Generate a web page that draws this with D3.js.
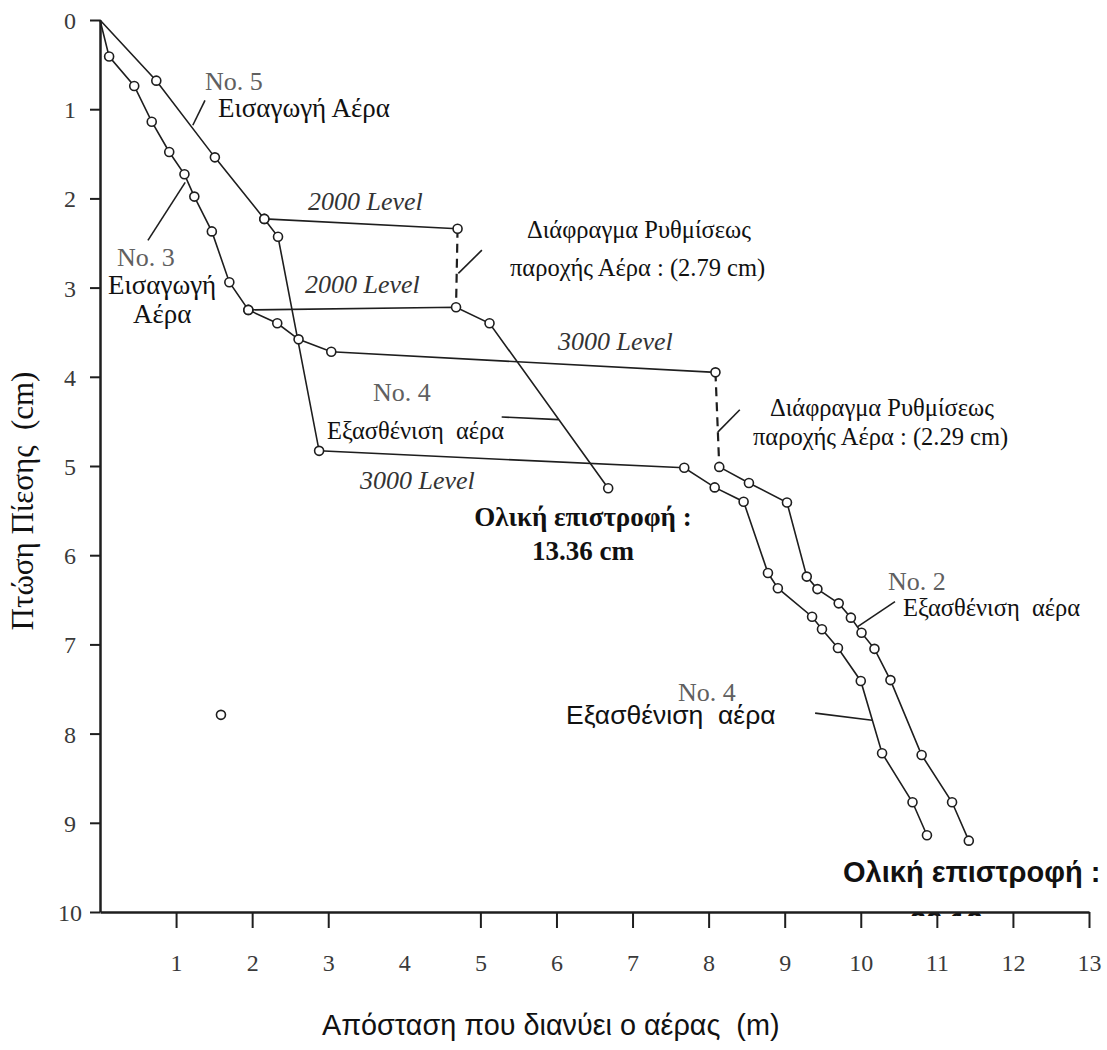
<!DOCTYPE html>
<html>
<head>
<meta charset="utf-8">
<script src="https://cdn.jsdelivr.net/npm/d3@7"></script>
<style>
  body { margin: 0; background: #fff; }
  text { white-space: pre; }
</style>
</head>
<body>
<div id="chart"></div>
<script>
// axis ticks
const xTicks = [1, 2, 3, 4, 5, 6, 7, 8, 9, 10, 11, 12, 13];
const yTicks = [0, 1, 2, 3, 4, 5, 6, 7, 8, 9, 10];

// [distance m, pressure drop cm]
// No.5 intake -> 3000 level (lower) -> No.4 exhaust
const no5Path = [[0, 0], [0.74, 0.68], [1.51, 1.54], [2.16, 2.23], [2.34, 2.43], [2.88, 4.83],
  [7.68, 5.02], [8.08, 5.24], [8.46, 5.40], [8.78, 6.20], [8.91, 6.37], [9.36, 6.69], [9.49, 6.83],
  [9.70, 7.04], [10.0, 7.41], [10.28, 8.22], [10.68, 8.77], [10.87, 9.14]];
// No.3 intake -> 3000 level (upper)
const no3Path = [[0, 0], [0.12, 0.41], [0.45, 0.74], [0.68, 1.14], [0.91, 1.48], [1.11, 1.73],
  [1.24, 1.98], [1.47, 2.37], [1.70, 2.94], [1.95, 3.25], [2.33, 3.40], [2.61, 3.58], [3.04, 3.72],
  [8.09, 3.95]];
// No.2 exhaust, after the regulator
const no2Path = [[8.14, 5.01], [8.53, 5.19], [9.03, 5.41], [9.29, 6.24], [9.43, 6.38], [9.71, 6.54],
  [9.87, 6.70], [10.01, 6.87], [10.18, 7.05], [10.39, 7.40], [10.80, 8.24], [11.20, 8.77], [11.42, 9.20]];
// 2000 level
const level2000Upper = [[2.16, 2.23], [4.70, 2.34]];
const level2000Lower = [[1.95, 3.25], [4.68, 3.22], [5.12, 3.40], [6.68, 5.25]];
// regulators (dashed)
const regulators = [[[4.70, 2.34], [4.68, 3.22]], [[8.09, 3.95], [8.14, 5.01]]];
const strayPoint = [[1.59, 7.79]];

// leader lines
const leaders = [
  [[1.22, 1.18], [1.38, 0.90]],
  [[0.63, 2.47], [1.12, 1.82]],
  [[4.71, 2.84], [5.02, 2.58]],
  [[5.28, 4.45], [6.03, 4.48]],
  [[8.12, 4.62], [8.41, 4.37]],
  [[9.96, 6.80], [10.45, 6.52]],
  [[9.40, 7.77], [10.15, 7.85]]
];

const W = 1107, H = 1050;
const svg = d3.select("#chart").append("svg")
  .attr("width", W)
  .attr("height", H);

const x = d3.scaleLinear().domain([0, 13]).range([100, 1089]);
const y = d3.scaleLinear().domain([0, 10]).range([20, 912]);

const serif = "'Liberation Serif', 'Times New Roman', serif";
const sans = "'Liberation Sans', Arial, sans-serif";
const ink = "#1e1e1e";

let line = d3.line()
  .x(d => x(d[0]))
  .y(d => y(d[1]));

//axes
let yAxis = svg.append("g")
  .attr("transform", "translate(100,0)")
  .call(d3.axisLeft(y).tickValues(yTicks).tickSize(10).tickSizeOuter(0).tickFormat(d3.format("d")));
yAxis.select(".domain").attr("stroke", ink).attr("stroke-width", 2.5);
yAxis.selectAll(".tick line").attr("stroke", ink).attr("stroke-width", 2);
yAxis.selectAll(".tick text")
  .attr("x", -30)
  .attr("dy", "0.35em")
  .attr("text-anchor", "middle")
  .style("font-family", serif)
  .style("font-size", "24px")
  .attr("fill", "#3a3a3a");

let xAxis = svg.append("g")
  .attr("transform", "translate(0,912)")
  .call(d3.axisBottom(x).tickValues(xTicks).tickSize(16).tickSizeOuter(0).tickFormat(d3.format("d")));
xAxis.select(".domain").attr("stroke", ink).attr("stroke-width", 2.5);
xAxis.selectAll(".tick line").attr("stroke", ink).attr("stroke-width", 2)
  .filter(d => d == 4).remove();
xAxis.selectAll(".tick text")
  .attr("y", 51)
  .attr("dy", "0.35em")
  .style("font-family", serif)
  .style("font-size", "24px")
  .attr("fill", "#3a3a3a");

// series lines
[no5Path, no3Path, no2Path, level2000Upper, level2000Lower].forEach(p =>
  svg.append("path")
    .datum(p)
    .attr("d", line)
    .attr("fill", "none")
    .attr("stroke", ink)
    .attr("stroke-width", 1.6)
);

regulators.forEach(r =>
  svg.append("path")
    .datum(r)
    .attr("d", line)
    .attr("fill", "none")
    .attr("stroke", ink)
    .attr("stroke-width", 2.2)
    .attr("stroke-dasharray", "9,6")
);

leaders.forEach(l =>
  svg.append("path")
    .datum(l)
    .attr("d", line)
    .attr("fill", "none")
    .attr("stroke", ink)
    .attr("stroke-width", 1.6)
);

// circles (no marker at the origin)
let pts = [].concat(no5Path, no3Path, no2Path, level2000Upper, level2000Lower, strayPoint)
  .filter(d => !(d[0] == 0 && d[1] == 0));
svg.append("g").selectAll("circle")
  .data(pts)
  .join("circle")
  .attr("cx", d => x(d[0]))
  .attr("cy", d => y(d[1]))
  .attr("r", 4.5)
  .attr("fill", "#fff")
  .attr("stroke", ink)
  .attr("stroke-width", 1.6);

// text labels
function label(t, px, py, font, size, opts) {
  opts = opts || {};
  return svg.append("text")
    .attr("x", px)
    .attr("y", py)
    .attr("text-anchor", opts.anchor || "start")
    .style("font-family", font)
    .style("font-size", size + "px")
    .style("font-style", opts.italic ? "italic" : "normal")
    .style("font-weight", opts.bold ? "bold" : "normal")
    .attr("fill", opts.fill || "#111")
    .text(t);
}

const gray = "#606060";
const lvl = {italic: true, fill: "#333"};
label("No. 5", 205, 90, serif, 26, {fill: gray});
label("Εισαγωγή Αέρα", 218, 117, serif, 27);
label("No. 3", 117, 266, serif, 26, {fill: gray});
label("Εισαγωγή", 108, 294, serif, 27);
label("Αέρα", 133, 323, serif, 27);

label("2000 Level", 308, 210, serif, 26, lvl);
label("2000 Level", 305, 293, serif, 26, lvl);
label("3000 Level", 558, 350, serif, 26, lvl);
label("3000 Level", 360, 489, serif, 26, lvl);

label("No. 4", 373, 401, serif, 26, {fill: gray});
label("Εξασθένιση  αέρα", 327, 439, serif, 24.5);

label("Διάφραγμα Ρυθμίσεως", 527, 238, serif, 24.5);
label("παροχής Αέρα : (2.79 cm)", 510, 276, serif, 24.5);
label("Διάφραγμα Ρυθμίσεως", 770, 416, serif, 24.5);
label("παροχής Αέρα : (2.29 cm)", 753, 445, serif, 24.5);

label("Ολική επιστροφή :", 583, 526, serif, 27, {bold: true, anchor: "middle"});
label("13.36 cm", 583, 560, serif, 27, {bold: true, anchor: "middle"});

label("No. 2", 888, 590, serif, 26, {fill: gray});
label("Εξασθένιση  αέρα", 903, 616, serif, 24.5);

label("No. 4", 678, 701, serif, 26, {fill: gray});
label("Εξασθένιση  αέρα", 566, 724, sans, 26.5);

label("Ολική επιστροφή :", 843, 882, sans, 29, {bold: true});

// second line of the total is mostly hidden under the axis
svg.append("clipPath").attr("id", "cut")
  .append("rect").attr("x", 0).attr("y", 0).attr("width", W).attr("height", 916);
label("22.12 cm", 910, 932, sans, 29, {bold: true}).attr("clip-path", "url(#cut)");
xAxis.raise();

// axis titles
label("Απόσταση που διανύει ο αέρας  (m)", 322, 1035, sans, 28.8);
svg.append("text")
  .attr("transform", "translate(33,501) rotate(-90)")
  .attr("text-anchor", "middle")
  .style("font-family", serif)
  .style("font-size", "31px")
  .attr("fill", "#111")
  .text("Πτώση Πίεσης  (cm)");
</script>
</body>
</html>
